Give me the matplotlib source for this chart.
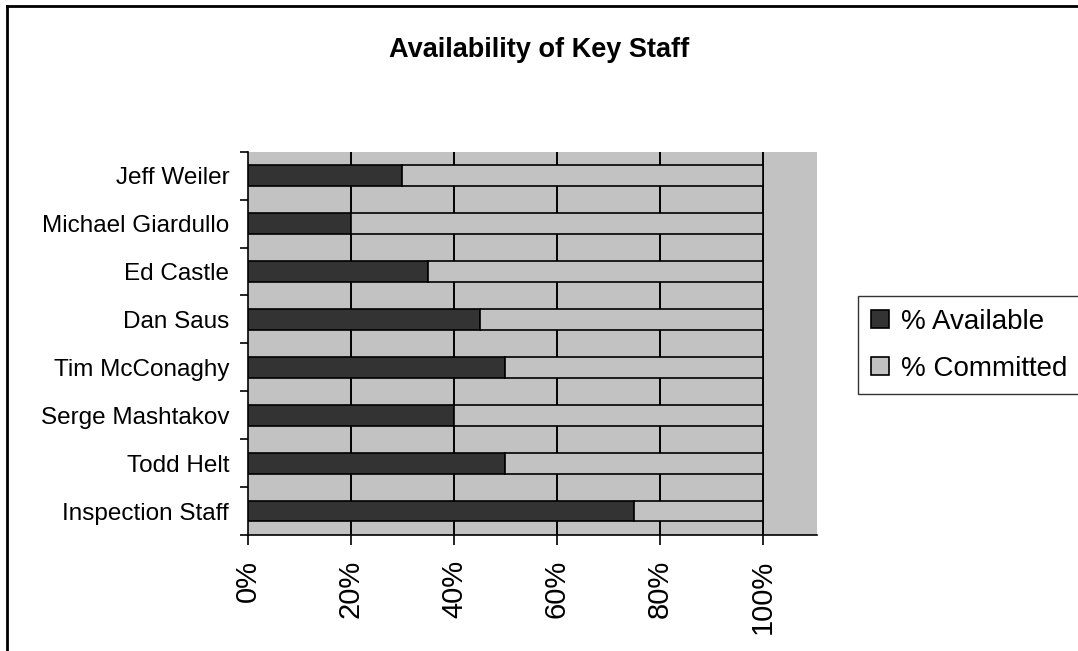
import numpy as np
import matplotlib
matplotlib.use("Agg")
from matplotlib import pyplot as plt
from matplotlib.lines import Line2D

# data (top to bottom)
staff = ["Jeff Weiler", "Michael Giardullo", "Ed Castle", "Dan Saus",
         "Tim McConaghy", "Serge Mashtakov", "Todd Helt", "Inspection Staff"]
available = [30, 20, 35, 45, 50, 40, 50, 75]
committed = [100 - a for a in available]
xticks = [0, 20, 40, 60, 80, 100]

plt.rcParams['font.family'] = ['Liberation Sans', 'DejaVu Sans']

fig = plt.figure(figsize=(10.78, 6.51), dpi=100)
ax = fig.add_axes([0.230, 0.178, 0.528, 0.589])
ax.set_facecolor('#c2c2c2')

y = np.arange(len(staff))[::-1]
h = 0.43
ax.barh(y, available, height=h, color='#333333', edgecolor='black',
        linewidth=1.2, zorder=3, label='% Available')
ax.barh(y, committed, left=available, height=h, color='#c2c2c2',
        edgecolor='black', linewidth=1.2, zorder=3, label='% Committed')

ax.set_xlim(0, 110.5)
ax.set_ylim(-0.5, len(staff) - 0.5)

# vertical gridlines
for xv in xticks[1:]:
    ax.axvline(xv, color='black', lw=1.4, zorder=2)

ax.set_xticks(xticks)
ax.set_xticklabels(['%d%%' % v for v in xticks], rotation=90, fontsize=21)
ax.set_yticks(y)
ax.set_yticklabels(staff, fontsize=17.5)
ax.set_yticks(np.arange(len(staff) + 1) - 0.5, minor=True)
ax.tick_params(axis='y', which='major', length=0, pad=13.5)
ax.tick_params(axis='y', which='minor', length=6, width=1.2, direction='out')
ax.tick_params(axis='x', length=7, width=1.2, direction='out', pad=11)

for s in ['top', 'right']:
    ax.spines[s].set_visible(False)
ax.spines['left'].set_linewidth(1.2)
ax.spines['bottom'].set_linewidth(1.2)

fig.text(0.5, 0.923, 'Availability of Key Staff', ha='center', va='center',
         fontsize=19.5, fontweight='bold')

leg = fig.legend(loc='upper left', bbox_to_anchor=(0.796, 0.545),
                 fontsize=20, frameon=True, fancybox=False, handlelength=0.65,
                 handleheight=0.65, handletextpad=0.45, borderpad=0.45,
                 labelspacing=0.75, borderaxespad=0)
leg.get_frame().set_edgecolor('black')
leg.get_frame().set_linewidth(1.0)

# chart border (left and top edges are visible in the scan)
fig.lines.append(Line2D([0.0065, 0.0065], [0, 0.991], transform=fig.transFigure,
                        color='black', lw=2))
fig.lines.append(Line2D([0.0065, 1], [0.991, 0.991], transform=fig.transFigure,
                        color='black', lw=2))

fig.savefig('out.png', dpi=100)
